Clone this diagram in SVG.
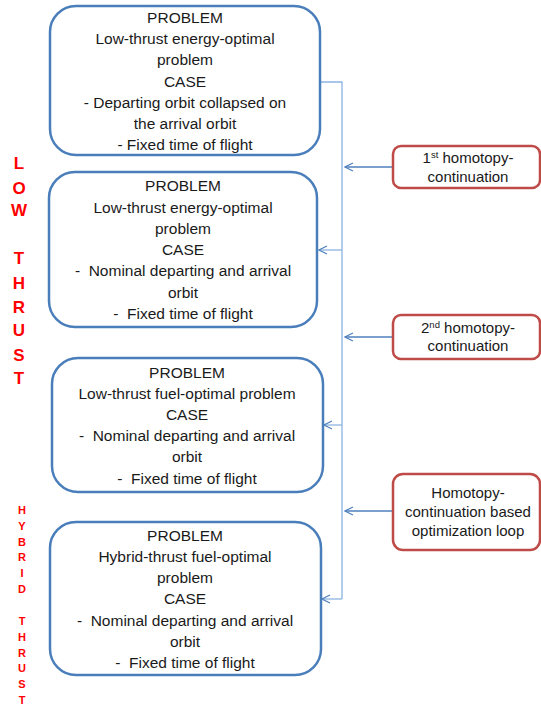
<svg xmlns="http://www.w3.org/2000/svg" width="541" height="707" viewBox="0 0 541 707">
<defs>
<style>
.box{fill:#fff;stroke:#4a7ebb;stroke-width:2.5}
.side{fill:#fff;stroke:#be4b48;stroke-width:2.5}
.t{font-family:"Liberation Sans",Arial,sans-serif;font-size:15.5px;fill:#1a1a1a;text-anchor:middle;white-space:pre}
.s{font-family:"Liberation Sans",Arial,sans-serif;font-size:15px;fill:#1a1a1a;text-anchor:middle}
.sup{font-size:9.5px}
.big{font-family:"Liberation Sans",Arial,sans-serif;font-size:17px;font-weight:bold;fill:#ff0000;text-anchor:middle}
.small{font-family:"Liberation Sans",Arial,sans-serif;font-size:11px;font-weight:bold;fill:#ff0000;text-anchor:middle}
.vline{fill:none;stroke:#8db3e2;stroke-width:1.3}
.arr{fill:none;stroke:#4f81bd;stroke-width:1.3}
</style>
<marker id="ah" viewBox="0 0 10 10" refX="9" refY="5" markerWidth="10" markerHeight="10" markerUnits="userSpaceOnUse" orient="auto">
<path d="M1,1 L9,5 L1,9" fill="none" stroke="#4f81bd" stroke-width="1.2"/>
</marker>
</defs>

<g id="connectors">
<path class="vline" d="M320,82 H342 V599"/>
<line class="vline" x1="342" y1="250" x2="319" y2="250" marker-end="url(#ah)"/>
<line class="vline" x1="342" y1="425" x2="324" y2="425" marker-end="url(#ah)"/>
<line class="vline" x1="342" y1="599" x2="322" y2="599" marker-end="url(#ah)"/>
<line class="arr" x1="393" y1="167" x2="345" y2="167" marker-end="url(#ah)"/>
<line class="arr" x1="393" y1="337" x2="345" y2="337" marker-end="url(#ah)"/>
<line class="arr" x1="393" y1="511" x2="345" y2="511" marker-end="url(#ah)"/>
</g>

<g id="node1">
<rect class="box" x="50" y="6" width="270" height="149" rx="26"/>
<text class="t" x="185" y="23">PROBLEM</text>
<text class="t" x="185" y="44">Low-thrust energy-optimal</text>
<text class="t" x="185" y="65">problem</text>
<text class="t" x="185" y="87">CASE</text>
<text class="t" x="185" y="108">- Departing orbit collapsed on</text>
<text class="t" x="185" y="129">the arrival orbit</text>
<text class="t" x="185" y="150">- Fixed time of flight</text>
</g>

<g id="node2">
<rect class="box" x="49" y="172" width="268" height="155" rx="26"/>
<text class="t" x="183" y="191">PROBLEM</text>
<text class="t" x="183" y="213">Low-thrust energy-optimal</text>
<text class="t" x="183" y="234">problem</text>
<text class="t" x="183" y="255">CASE</text>
<text class="t" x="183" y="276">-  Nominal departing and arrival</text>
<text class="t" x="183" y="298">orbit</text>
<text class="t" x="183" y="319">-  Fixed time of flight</text>
</g>

<g id="node3">
<rect class="box" x="52" y="358" width="271" height="134" rx="26"/>
<text class="t" x="187" y="378">PROBLEM</text>
<text class="t" x="187" y="399">Low-thrust fuel-optimal problem</text>
<text class="t" x="187" y="420">CASE</text>
<text class="t" x="187" y="441">-  Nominal departing and arrival</text>
<text class="t" x="187" y="462">orbit</text>
<text class="t" x="187" y="484">-  Fixed time of flight</text>
</g>

<g id="node4">
<rect class="box" x="50" y="522" width="271" height="153" rx="26"/>
<text class="t" x="185" y="541">PROBLEM</text>
<text class="t" x="185" y="562">Hybrid-thrust fuel-optimal</text>
<text class="t" x="185" y="583">problem</text>
<text class="t" x="185" y="604">CASE</text>
<text class="t" x="185" y="626">-  Nominal departing and arrival</text>
<text class="t" x="185" y="647">orbit</text>
<text class="t" x="185" y="668">-  Fixed time of flight</text>
</g>

<g id="side1">
<rect class="side" x="393" y="146" width="147" height="42" rx="8"/>
<text class="s" x="468" y="163">1<tspan class="sup" dy="-5">st</tspan><tspan dy="5"> homotopy-</tspan></text>
<text class="s" x="468" y="182">continuation</text>
</g>

<g id="side2">
<rect class="side" x="393" y="315" width="147" height="44" rx="8"/>
<text class="s" x="468" y="333">2<tspan class="sup" dy="-5">nd</tspan><tspan dy="5"> homotopy-</tspan></text>
<text class="s" x="468" y="351">continuation</text>
</g>

<g id="side3">
<rect class="side" x="393" y="474" width="147" height="76" rx="10"/>
<text class="s" x="468" y="498">Homotopy-</text>
<text class="s" x="468" y="517">continuation based</text>
<text class="s" x="468" y="536">optimization loop</text>
</g>

<g id="label-low">
<text class="big" x="19" y="169">L</text>
<text class="big" x="19" y="194">O</text>
<text class="big" x="19" y="216">W</text>
<text class="big" x="19" y="264">T</text>
<text class="big" x="19" y="289">H</text>
<text class="big" x="19" y="313">R</text>
<text class="big" x="19" y="336">U</text>
<text class="big" x="19" y="361">S</text>
<text class="big" x="19" y="384">T</text>
</g>

<g id="label-hybrid">
<text class="small" x="22" y="514">H</text>
<text class="small" x="22" y="530">Y</text>
<text class="small" x="22" y="546">B</text>
<text class="small" x="22" y="561">R</text>
<text class="small" x="22" y="577">I</text>
<text class="small" x="22" y="593">D</text>
<text class="small" x="22" y="625">T</text>
<text class="small" x="22" y="641">H</text>
<text class="small" x="22" y="657">R</text>
<text class="small" x="22" y="672">U</text>
<text class="small" x="22" y="688">S</text>
<text class="small" x="22" y="704">T</text>
</g>
</svg>
